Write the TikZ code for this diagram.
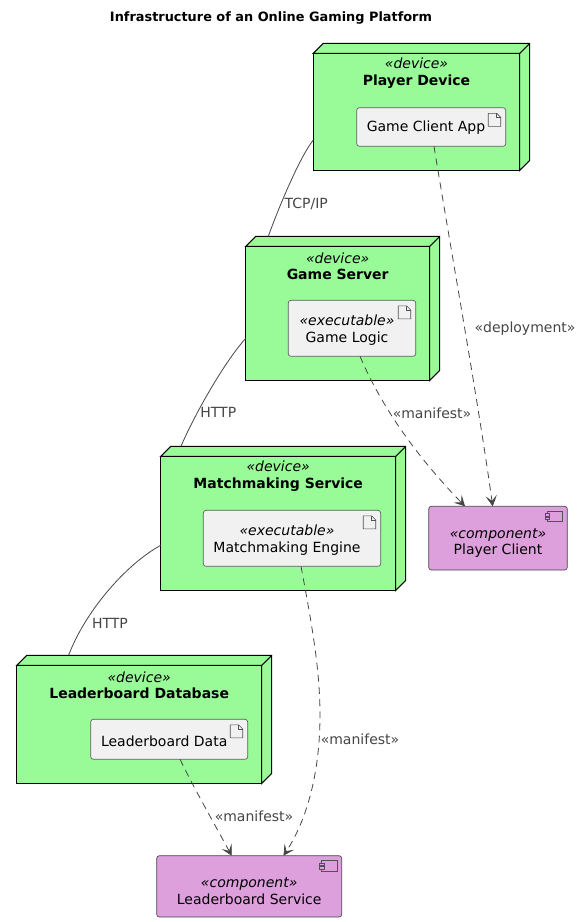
\documentclass[tikz,border=0pt]{standalone}
\usepackage{fontspec}
\setmainfont{DejaVu Sans}
\usetikzlibrary{arrows.meta}
\definecolor{devgreen}{HTML}{98FB98}
\definecolor{complum}{HTML}{DDA0DD}
\definecolor{artfill}{HTML}{F1F1F1}
\definecolor{inkdark}{HTML}{181818}
\definecolor{linkgray}{HTML}{454545}
\newcommand{\pxu}{0.75pt}
\tikzset{
  x=0.75pt,y=-0.75pt,
  box/.style={anchor=north west,inner sep=0pt,outer sep=0pt,minimum width=#1*\pxu},
  devfront/.style={draw=black,line width=0.8pt,fill=devgreen},
  devback/.style={draw=black,line width=0.8pt,fill=devgreen,line join=miter},
  artbox/.style={draw=inkdark!70,line width=0.5pt,fill=artfill,rounded corners=2pt},
  compbox/.style={draw=inkdark!80,line width=0.5pt,fill=complum,rounded corners=2pt},
  iconline/.style={draw=inkdark!75,line width=0.45pt},
  txt/.style={font=\fontsize{10.5pt}{12.4pt}\selectfont,text=black,align=center,inner sep=0pt},
  ltxt/.style={font=\fontsize{10.5pt}{12.4pt}\selectfont,text=linkgray,align=center,inner sep=0pt},
  assoc/.style={draw=linkgray,line width=0.6pt},
  dep/.style={draw=linkgray,line width=0.6pt,dash pattern=on 5.25pt off 3.9pt,
    -{Stealth[length=8pt,width=8.4pt,inset=3.9pt,line width=0.5pt,fill=linkgray]}},
}
\newcommand{\devicebox}[7]{% name,x,y,w,h,label y,title
  \node[box=#4,minimum height=#5*\pxu,devfront] (#1) at (#2,#3) {};
  \draw[devback] (#1.north west) -- ([shift={(10,-10)}]#1.north west) -- ([shift={(10,-10)}]#1.north east)
    -- ([shift={(10,-10)}]#1.south east) -- (#1.south east) -- (#1.north east) -- cycle;
  \draw[devback] (#1.north east) -- ([shift={(10,-10)}]#1.north east);
  \node[txt] (#1t) at ([shift={(0,#6)}]#1.north) {\textit{«device»}\\\textbf{#7}};
}
\newcommand{\artifactbox}[7]{% name,x,y,w,h,text offset,text
  \node[box=#4,minimum height=#5*\pxu,artbox] (#1) at (#2,#3) {};
  \draw[iconline,fill=artfill] ([shift={(-17.5,5.6)}]#1.north east) -- ([shift={(-9,5.6)}]#1.north east)
    -- ([shift={(-5,9.6)}]#1.north east) -- ([shift={(-5,18.6)}]#1.north east)
    -- ([shift={(-17.5,18.6)}]#1.north east) -- cycle;
  \draw[iconline] ([shift={(-9,5.6)}]#1.north east) -- ([shift={(-9,9.6)}]#1.north east) -- ([shift={(-5,9.6)}]#1.north east);
  \node[txt] (#1t) at ([shift={(#6)}]#1.center) {#7};
}
\newcommand{\componentbox}[6]{% name,x,y,w,h,text
  \node[box=#4,minimum height=#5*\pxu,compbox] (#1) at (#2,#3) {};
  \draw[iconline] ([shift={(-20,5)}]#1.north east) rectangle ([shift={(-4.6,15.4)}]#1.north east);
  \draw[iconline,fill=complum] ([shift={(-22.3,7.4)}]#1.north east) rectangle ([shift={(-17.7,9.8)}]#1.north east);
  \draw[iconline,fill=complum] ([shift={(-22.3,11)}]#1.north east) rectangle ([shift={(-17.7,13.4)}]#1.north east);
  \node[txt] (#1t) at ([shift={(0,5)}]#1.center) {\textit{«component»}\\#6};
}
\begin{document}
\begin{tikzpicture}
\useasboundingbox (0,0) rectangle (582,922);
\node[txt,font=\fontsize{9.66pt}{12pt}\selectfont\bfseries] (title) at (271,18) {Infrastructure of an Online Gaming Platform};

\devicebox{pd}{313.3}{53.3}{206.4}{117}{20}{Player Device}
\artifactbox{gca}{356.7}{107.7}{149}{38.6}{-5.2,0.5}{Game Client App}

\devicebox{gs}{245.7}{246.3}{184}{134}{20}{Game Server}
\artifactbox{gl}{288.3}{300.3}{127.4}{56}{-5,2}{\textit{«executable»}\\Game Logic}

\devicebox{ms}{160.7}{456.3}{235}{134}{20}{Matchmaking Service}
\artifactbox{me}{203.3}{510.3}{177.4}{56}{-5,2}{\textit{«executable»}\\Matchmaking Engine}

\devicebox{ld}{16.7}{665.3}{245}{118}{20}{Leaderboard Database}
\artifactbox{ldd}{90.7}{719.3}{157}{40}{-5,1.5}{Leaderboard Data}

\componentbox{pc}{428.7}{506.3}{138.6}{63.7}{Player Client}
\componentbox{ls}{156.7}{855.7}{185}{61.3}{Leaderboard Service}

\draw[assoc] ([shift={(0,86.7)}]pd.north west) .. controls (299,158) and (277,212) .. ([shift={(22.6,-10)}]gs.north west);
\draw[assoc] ([shift={(0,92)}]gs.north west) .. controls (222,365) and (192,420) .. ([shift={(20.3,-10)}]ms.north west);
\draw[assoc] ([shift={(0,89)}]ms.north west) .. controls (125,565) and (85,612) .. ([shift={(51.9,-10)}]ld.north west);

\draw[dep] ([shift={(77.3,0)}]gca.south west) .. controls (450,245) and (478,400) .. ([shift={(64,0)}]pc.north west);
\draw[dep] ([shift={(71.7,0)}]gl.south west) .. controls (385,415) and (425,465) .. ([shift={(36.3,0)}]pc.north west);
\draw[dep] ([shift={(97.7,0)}]me.south west) .. controls (312,625) and (320,670) .. (320,715) .. controls (320,765) and (310,815) .. ([shift={(126.8,0)}]ls.north west);
\draw[dep] ([shift={(89.3,0)}]ldd.south west) .. controls (195,790) and (215,825) .. ([shift={(75,0)}]ls.north west);

\node[ltxt] (l1) at (306.3,204) {TCP/IP};
\node[ltxt] (l2) at (218.3,412.7) {HTTP};
\node[ltxt] (l3) at (110,623) {HTTP};
\node[ltxt] (l4) at (525,328.3) {«deployment»};
\node[ltxt] (l5) at (432,413) {«manifest»};
\node[ltxt] (l6) at (360,739.3) {«manifest»};
\node[ltxt] (l7) at (254,816.7) {«manifest»};
\end{tikzpicture}
\end{document}
